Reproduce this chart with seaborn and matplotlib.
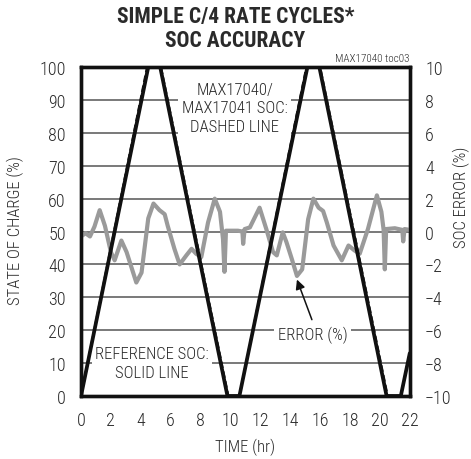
import matplotlib
matplotlib.use("Agg")
import matplotlib.pyplot as plt
import seaborn as sns
import pandas as pd

# ---- data ----
soc_time = [0, 4.5, 5.3, 9.8, 10.6, 15.15, 15.95, 20.45, 21.4, 22]
soc_ref = [0, 100, 100, 0, 0, 100, 100, 0, 0, 13]
fg_time = [0, 4.42, 5.35, 9.86, 10.6, 15.08, 16.0, 20.52, 21.4, 22]
fg_soc = [0, 100, 100, 0, 0, 100, 100, 0, 0, 13]

err_time = [0, 0.3, 0.6, 0.9, 1.25, 1.6, 2.0, 2.25, 2.7, 3.05, 3.7, 4.05, 4.5,
            4.85, 5.25, 5.6, 5.8, 6.25, 6.6, 7.05, 7.4, 7.7, 8.05, 8.5, 8.95,
            9.3, 9.5, 9.6, 9.7, 10.0, 10.5, 10.8, 10.85, 10.95, 11.3, 11.95,
            12.4, 12.85, 13.1, 13.5, 13.75, 14.1, 14.45, 14.8, 15.2, 15.55,
            15.9, 16.2, 16.45, 16.9, 17.45, 17.9, 18.3, 18.65, 19.2, 19.8,
            20.1, 20.25, 20.33, 20.42, 21.0, 21.5, 21.56, 21.65, 22]
err_val = [-0.3, -0.1, -0.3, 0.3, 1.3, 0.35, -1.25, -1.75, -0.55, -1.25, -3.1,
           -2.5, 0.8, 1.7, 1.3, 1.05, 0.35, -1.05, -2.0, -1.45, -1.05, -1.35,
           -1.55, 0.55, 2.0, 1.2, -0.45, -2.45, 0.05, 0.05, 0.05, 0.0, -0.75,
           0.15, 0.25, 1.45, 0.15, -1.25, -1.45, -0.05, -0.65, -1.65, -2.7,
           -2.3, 0.75, 2.0, 1.45, 1.25, 0.55, -0.85, -1.75, -0.85, -1.15,
           -1.35, 0.15, 2.2, 1.2, 0.1, -2.3, 0.15, 0.2, 0.1, -0.6, 0.15, 0.1]

x_ticks = list(range(0, 23, 2))
soc_ticks = list(range(0, 101, 10))
err_ticks = list(range(-10, 11, 2))

title = "SIMPLE C/4 RATE CYCLES*\nSOC ACCURACY"

# ---- style ----
sns.set_theme(style="white")
FONT = ["Roboto Condensed", "Archivo Narrow", "PT Sans Narrow",
        "Liberation Sans", "DejaVu Sans"]
plt.rcParams["font.family"] = FONT
TXT = "#2a2a2a"
LW = "light"

fig = plt.figure(figsize=(4.71, 4.60), dpi=100)
ax1 = fig.add_axes([0.172, 0.137, 0.698, 0.715])
ax2 = ax1.twinx()

ax1.set_zorder(ax2.get_zorder() + 1)
ax1.patch.set_visible(False)
ax2.patch.set_visible(True)
ax2.patch.set_facecolor("white")

df_err = pd.DataFrame({"t": err_time, "e": err_val})
sns.lineplot(data=df_err, x="t", y="e", ax=ax2, color="#9a9a9a", lw=3.0,
             sort=False, estimator=None, zorder=3)

df_ref = pd.DataFrame({"t": soc_time, "s": soc_ref})
df_fg = pd.DataFrame({"t": fg_time, "s": fg_soc})
sns.lineplot(data=df_ref, x="t", y="s", ax=ax1, color="#111111", lw=2.7,
             sort=False, estimator=None, zorder=5)
sns.lineplot(data=df_fg, x="t", y="s", ax=ax1, color="#111111", lw=1.6,
             linestyle=(0, (3, 1.5)), sort=False, estimator=None, zorder=6)

ax1.set_xlim(0, 22)
ax1.set_ylim(0, 100)
ax2.set_ylim(-10, 10)
ax1.set_xticks(x_ticks)
ax1.set_yticks(soc_ticks)
ax2.set_yticks(err_ticks)

ax2.grid(True, color="#555555", lw=1.1)
ax2.set_axisbelow(True)
ax2.xaxis.grid(True)
ax1.grid(False)

for a in (ax1, ax2):
    a.tick_params(length=0, labelsize=13, colors=TXT)
    for lab in a.get_xticklabels() + a.get_yticklabels():
        lab.set_fontweight(LW)
    for s in a.spines.values():
        s.set_linewidth(2.4)
        s.set_color("#111111")
ax1.tick_params(axis="y", pad=11)
ax1.tick_params(axis="x", pad=11)
ax2.tick_params(axis="y", pad=11)

ax1.set_xlabel("")
ax1.set_ylabel("")
ax2.set_ylabel("")
fig.text(245.5 / 471, 1 - 447 / 460, "TIME (hr)", ha="center", va="center",
         fontsize=12, color=TXT, fontweight=LW)
fig.text(15.5 / 471, 1 - 231 / 460, "STATE OF CHARGE (%)", ha="center",
         va="center", rotation=90, fontsize=12, color=TXT, fontweight=LW)
fig.text(461.5 / 471, 1 - 197 / 460, "SOC ERROR (%)", ha="center",
         va="center", rotation=90, fontsize=12, color=TXT, fontweight=LW)

# annotations
box = dict(facecolor="white", edgecolor="none", pad=2.5)
ax1.text(10.3, 87.6, "MAX17040/\nMAX17041 SOC:\nDASHED LINE", ha="center",
         va="center", fontsize=12, color=TXT, linespacing=1.3, bbox=box,
         zorder=4, fontweight=LW)
ax1.text(4.75, 10, "REFERENCE SOC:\nSOLID LINE", ha="center", va="center",
         fontsize=12, color=TXT, linespacing=1.3, bbox=box, zorder=4,
         fontweight=LW)
ax1.text(15.5, 18.8, "ERROR (%)", ha="center", va="center", fontsize=12,
         color=TXT, bbox=box, zorder=4, fontweight=LW)
ax1.annotate("", xy=(14.45, 35.4), xytext=(15.45, 23.2),
             arrowprops=dict(arrowstyle="-|>", color="#111111", lw=1.1,
                             mutation_scale=14, shrinkA=0, shrinkB=0),
             zorder=7)
ax1.text(22, 101.3, "MAX17040 toc03", ha="right", va="bottom", fontsize=8,
         color=TXT, fontweight=LW)

fig.text(0.5, 0.988, title, ha="center", va="top", fontsize=15.5,
         fontweight="bold", color=TXT, linespacing=1.15)

fig.savefig("out.png", dpi=100)
